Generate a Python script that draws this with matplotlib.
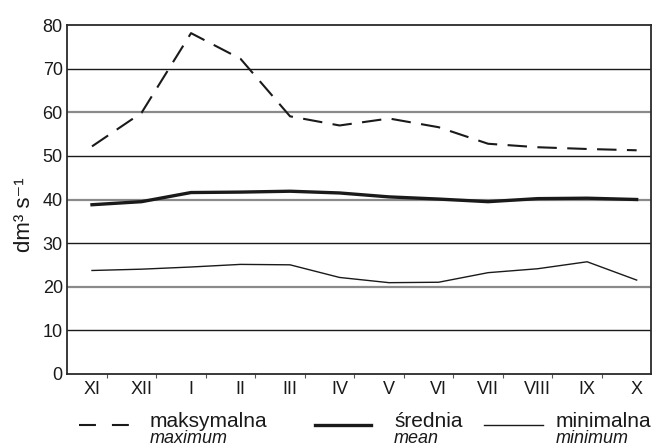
import numpy as np
import matplotlib
matplotlib.use('Agg')
import matplotlib.pyplot as plt
from matplotlib.lines import Line2D

plt.rcParams['font.family'] = ['Liberation Sans', 'DejaVu Sans']
plt.rcParams['lines.scale_dashes'] = False

# Miesiące roku hydrologicznego
months = ['XI', 'XII', 'I', 'II', 'III', 'IV', 'V', 'VI', 'VII', 'VIII', 'IX', 'X']

# Przepływy (dm3/s)
q_max = [52.2, 59.9, 78.2, 72.3, 59.1, 57.0, 58.6, 56.6, 52.8, 52.0, 51.6, 51.3]
q_mean = [38.8, 39.5, 41.6, 41.7, 41.9, 41.5, 40.6, 40.1, 39.5, 40.2, 40.3, 40.0]
q_min = [23.7, 24.0, 24.5, 25.1, 25.0, 22.1, 20.9, 21.0, 23.2, 24.1, 25.7, 21.5]

W, H = 654, 447
fig = plt.figure(figsize=(W / 100, H / 100), dpi=100)
ax = fig.add_axes([67 / W, 1 - 373.7 / H, 584 / W, 348.4 / H])

x = np.arange(len(months))
ink = '#1a1a1a'

# Linie siatki: co 20 szare, pozostałe czarne
for v in range(10, 80, 10):
    if v % 20 == 0:
        ax.axhline(v, color='#8a8a8a', lw=1.6, zorder=1)
    else:
        ax.axhline(v, color=ink, lw=1.0, zorder=1)

ax.plot(x, q_max, color=ink, lw=1.5, dashes=(14, 7.5), zorder=3)
ax.plot(x, q_mean, color=ink, lw=2.4, zorder=3)
ax.plot(x, q_min, color=ink, lw=1.0, zorder=3)

ax.set_xlim(-0.505, 11.29)
ax.set_ylim(0, 80)
ax.set_yticks(range(0, 81, 10))
ax.set_xticks(x)
ax.set_xticklabels(months)
ax.set_xticks(np.arange(11) + 0.3, minor=True)
ax.tick_params(axis='x', which='major', length=0, pad=5, labelsize=13, colors=ink)
ax.tick_params(axis='x', which='minor', length=3, width=0.8, color='#555555')
ax.tick_params(axis='y', length=0, pad=3, labelsize=13, colors=ink)

for s in ['left', 'bottom', 'top', 'right']:
    ax.spines[s].set_color('#2a2a2a')
    ax.spines[s].set_linewidth(1.3)

fig.text(24 / W, 1 - 215 / H, 'dm³ s⁻¹', fontsize=16, color=ink,
         rotation=90, ha='center', va='center')

# Legenda rysowana ręcznie
y_leg = 1 - 425 / H
fig.add_artist(Line2D([79 / W, 129 / W], [y_leg, y_leg], color=ink, lw=1.5, dashes=(12.2, 11.5)))
fig.add_artist(Line2D([315 / W, 371 / W], [y_leg, y_leg], color=ink, lw=2.4))
fig.add_artist(Line2D([484 / W, 543 / W], [y_leg, y_leg], color=ink, lw=1.0))

legend_pl = ['maksymalna', 'średnia', 'minimalna']
legend_en = ['maximum', 'mean', 'minimum']
x_txt = [150, 394, 556]
for xt, pl, en in zip(x_txt, legend_pl, legend_en):
    fig.text(xt / W, 1 - 427 / H, pl, fontsize=15, color=ink, va='baseline')
    fig.text(xt / W, 1 - 443 / H, en, fontsize=13, style='italic', color=ink, va='baseline')

fig.savefig('out.png', dpi=100)
